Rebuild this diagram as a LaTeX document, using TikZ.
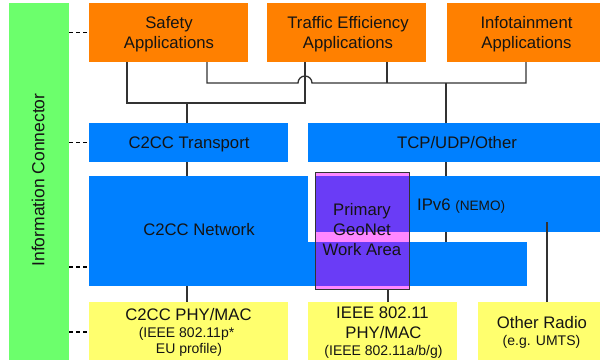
\documentclass[tikz,border=0pt]{standalone}
\usepackage{fontspec}
\setmainfont{Liberation Sans}
\definecolor{orng}{HTML}{FF8000}
\definecolor{blu}{HTML}{0080FF}
\definecolor{grn}{HTML}{6CFF6C}
\definecolor{yel}{HTML}{FFFF6E}
\definecolor{pnk}{HTML}{FF88FF}
\definecolor{prp}{HTML}{6A3CF6}
\definecolor{lin}{HTML}{333333}
\definecolor{txt}{HTML}{141414}
\begin{document}
\begin{tikzpicture}[x=1pt,y=-1pt,
  box/.style={rectangle, inner sep=0pt, outer sep=0pt, anchor=north west},
  obox/.style={box, fill=orng},
  bbox/.style={box, fill=blu},
  ybox/.style={box, fill=yel},
  gbox/.style={box, fill=grn},
  pbox/.style={box, fill=pnk},
  bigtxt/.style={font=\fontsize{16.7}{20}\selectfont, text=txt, inner sep=0pt, anchor=base},
  smalltxt/.style={font=\fontsize{14}{17}\selectfont, text=txt, inner sep=0pt, anchor=base},
  conn/.style={draw=lin, line width=1.3pt},
  dashline/.style={draw=black, line width=1.2pt, dash pattern=on 4pt off 3pt},
]
\useasboundingbox (0,0) rectangle (600,360);
\fill[white] (0,0) rectangle (600,360);

% green information connector bar
\node[gbox, minimum width=60pt, minimum height=357pt] (ic) at (9,3) {};

% orange application boxes
\node[obox, minimum width=159pt, minimum height=59pt] (saf) at (89,3) {};
\node[obox, minimum width=159pt, minimum height=59pt] (tra) at (267,3) {};
\node[obox, minimum width=153pt, minimum height=59pt] (inf) at (447,3) {};

% blue boxes
\node[bbox, minimum width=199pt, minimum height=39pt] (c2t) at (89,123) {};
\node[bbox, minimum width=292pt, minimum height=39pt] (tcp) at (308,123) {};
\node[bbox, minimum width=219pt, minimum height=110pt] (c2n) at (89,176) {};
\node[bbox, minimum width=219pt, minimum height=44pt] (c2s) at (308,242) {};
\node[bbox, minimum width=284pt, minimum height=56pt] (ipv6) at (316,176) {};

% yellow boxes
\node[ybox, minimum width=199pt, minimum height=58pt] (phy1) at (89,302) {};
\node[ybox, minimum width=149pt, minimum height=58pt] (phy2) at (308,302) {};
\node[ybox, minimum width=122pt, minimum height=58pt] (oth) at (478,302) {};

% primary geonet work area (translucent look)
\node[pbox, minimum width=94pt, minimum height=117pt] (gn) at (315,172) {};
\fill[prp] (gn.west |- ipv6.north) rectangle (gn.east |- ipv6.south);
\fill[prp] (gn.west |- c2s.north) rectangle (gn.east |- c2s.south);
\draw[lin, line width=0.8pt] (gn.south west) rectangle (gn.north east);

% dashed links to the information connector
\draw[dashline] (ic.east |- saf.west) -- (saf.west);
\draw[dashline] (ic.east |- c2t.west) -- (c2t.west);
\coordinate (c2nd) at ([yshift=19pt]c2n.south west);
\draw[dashline] (ic.east |- c2nd) -- (c2nd);
\coordinate (phyd) at ([yshift=-30pt]phy1.north west);
\draw[dashline] (ic.east |- phyd) -- (phyd);

% connectors: applications to C2CC transport
\coordinate (sa1) at ([xshift=38pt]saf.south west);
\coordinate (ta1) at ([xshift=38pt]tra.south west);
\coordinate (bus1) at ([yshift=-41pt]ta1);
\draw[conn] (sa1) |- (bus1) -- (ta1);
\coordinate (ct1) at ([xshift=98pt]c2t.north west);
\draw[conn] (ct1) -- (ct1 |- bus1);

% connectors: applications to TCP/UDP
\coordinate (sa2) at ([xshift=118pt]saf.south west);
\coordinate (ta2) at ([xshift=120pt]tra.south west);
\coordinate (ia2) at ([xshift=79pt]inf.south west);
\coordinate (bus2) at ([yshift=-21pt]sa2);
\coordinate (hopL) at ([xshift=-7pt]ta1 |- bus2);
\coordinate (hopR) at ([xshift=7pt]ta1 |- bus2);
\draw[conn] (sa2) -- (bus2) -- (hopL) arc[start angle=180, end angle=0, radius=7pt] -- (ia2 |- bus2) -- (ia2);
\draw[conn] (ta2) -- (ta2 |- bus2);
\coordinate (tc1) at ([xshift=138pt]tcp.north west);
\draw[conn] (tc1) -- (tc1 |- bus2);

% connectors between layers
\draw[conn] ([xshift=98pt]c2t.south west) -- ([xshift=98pt]c2n.north west);
\draw[conn] ([xshift=98pt]c2n.south west) -- ([xshift=98pt]phy1.north west);
\coordinate (tc2) at ([xshift=138pt]tcp.south west);
\draw[conn] (tc2) -- (tc2 |- ipv6.north);
\draw[conn] (tc2 |- ipv6.south) -- (tc2 |- c2s.north);
\coordinate (or1) at ([xshift=69pt]oth.north west);
\draw[conn] (or1) -- (or1 |- ipv6.south) -- ++(0,-10);
\draw[conn] ([xshift=73pt]gn.south west) -- ([xshift=73pt]gn.south west |- phy2.north);

% texts
\node[bigtxt, rotate=90, anchor=center, font=\fontsize{17.5}{20}\selectfont] (tic) at (38,180) {Information Connector};
\node[bigtxt] (tsaf1) at (169,28) {Safety};
\node[bigtxt] (tsaf2) at (169,48) {Applications};
\node[bigtxt] (ttra1) at (348,28) {Traffic Efficiency};
\node[bigtxt] (ttra2) at (348,48) {Applications};
\node[bigtxt] (tinf1) at (526.5,28) {Infotainment};
\node[bigtxt] (tinf2) at (526.5,48) {Applications};
\node[bigtxt] (tc2t) at (189,148) {C2CC Transport};
\node[bigtxt] (ttcp) at (457,148) {TCP/UDP/Other};
\node[bigtxt] (tc2n) at (199,235.5) {C2CC Network};
\node[bigtxt, anchor=base west] (tipv6) at (417,210) {IPv6 {\fontsize{13.6}{16}\selectfont (NEMO)}};
\node[bigtxt] (tgn1) at (362,215) {Primary};
\node[bigtxt] (tgn2) at (362,235) {GeoNet};
\node[bigtxt] (tgn3) at (362,255) {Work Area};
\node[bigtxt] (tphy1a) at (188.5,320) {C2CC PHY/MAC};
\node[smalltxt] (tphy1b) at (186.5,337.5) {(IEEE 802.11p*};
\node[smalltxt] (tphy1c) at (189,353.5) {EU profile)};
\node[bigtxt] (tphy2a) at (382.5,318) {IEEE 802.11};
\node[bigtxt] (tphy2b) at (383.5,338) {PHY/MAC};
\node[smalltxt] (tphy2c) at (383.5,355) {(IEEE 802.11a/b/g)};
\node[bigtxt] (toth1) at (542,328) {Other Radio};
\node[smalltxt] (toth2) at (541.5,345) {(e.g. UMTS)};
\end{tikzpicture}
\end{document}
